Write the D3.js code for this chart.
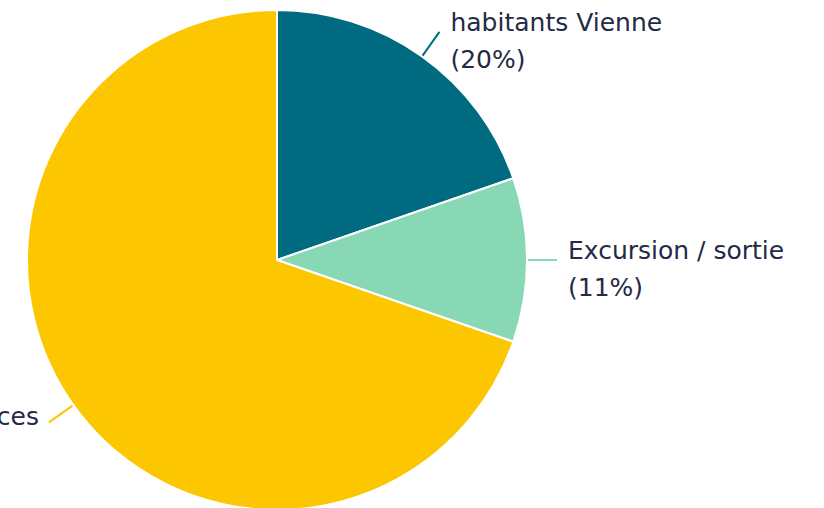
<!DOCTYPE html>
<html>
<head>
<meta charset="utf-8">
<script src="https://cdn.jsdelivr.net/npm/d3@7"></script>
<style>
  html, body { margin: 0; padding: 0; background: #fff; overflow: hidden; }
  svg { display: block; }
  text { font-family: "DejaVu Sans", "Noto Sans", sans-serif; font-size: 25px; fill: #252a46; }
</style>
</head>
<body>
<script>
// data
const categories = ["habitants Vienne", "Excursion / sortie", "Vacances"];
const values = [19.7, 10.6, 69.7];
const colors = ["#006b80", "#88d8b6", "#fcc600"];

const width = 824, height = 508;
const cx = 277, cy = 260, radius = 250;

let canvas = d3.select("body")
    .append("svg")
    .attr("width", width)
    .attr("height", height);

let g = canvas.append("g").attr("transform", `translate(${cx},${cy})`);

// slices go clockwise from 12 o'clock
let pie = d3.pie().sort(null).value(d => d);
let arcs = pie(values);

let arc = d3.arc().innerRadius(0).outerRadius(radius);

g.selectAll("path.slice")
    .data(arcs)
    .enter()
    .append("path")
    .attr("class", "slice")
    .attr("d", arc)
    .attr("fill", (d, i) => colors[i])
    .attr("stroke", "#fff")
    .attr("stroke-width", 2);

// leader lines: from the rim out to r+30 along the middle angle
let pt = (a, r) => [Math.sin(a) * r, -Math.cos(a) * r];

arcs.forEach((d, i) => {
    let mid = (d.startAngle + d.endAngle) / 2;
    let p0 = pt(mid, radius + 1);
    let p1 = pt(mid, radius + 30);
    g.append("line")
        .attr("x1", p0[0]).attr("y1", p0[1])
        .attr("x2", p1[0]).attr("y2", p1[1])
        .attr("stroke", colors[i])
        .attr("stroke-width", 2);

    let right = p1[0] > 0;
    let label = g.append("text")
        .attr("x", right ? p1[0] + 11 : p1[0] - 10)
        .attr("y", p1[1] + (right ? -1 : 3))
        .attr("text-anchor", right ? "start" : "end");

    let pct = "(" + Math.round(values[i]) + "%)";
    if (right) {
        label.append("tspan").text(categories[i]);
        label.append("tspan")
            .attr("x", p1[0] + 11)
            .attr("dy", 37)
            .text(pct);
    } else {
        // left label is cut by the frame, only its last word shows
        label.text(categories[i]);
    }
});
</script>
</body>
</html>
